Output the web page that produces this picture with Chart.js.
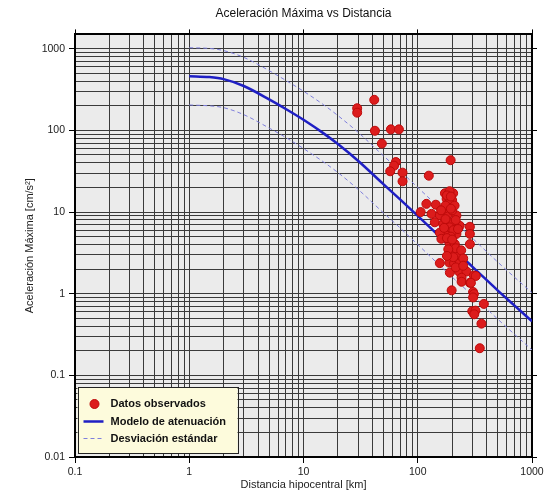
<!DOCTYPE html>
<html lang="es">
<head>
<meta charset="utf-8">
<title>Aceleración Máxima vs Distancia</title>
<script src="https://cdn.jsdelivr.net/npm/chart.js@4.4.0/dist/chart.umd.min.js"></script>
<style>
  html, body { margin: 0; padding: 0; background: #fff; }
  #wrap { width: 552px; height: 500px; position: relative; }
</style>
</head>
<body>
<div id="wrap"><canvas id="chartPga"></canvas></div>
<script>
// ==== DATA ====
const obsDist = [29.5, 29.5, 41.6, 42.2, 58.2, 68.4, 48.5, 64.3, 62, 57.4, 73.6, 73.6, 125, 194,
    173, 204, 190, 179, 200, 119, 144, 189, 106, 132, 156, 185, 218, 200, 170,
    141, 167, 198, 233, 286, 181, 156, 218, 286, 161, 189, 211, 286, 198, 226,
    189, 226, 156, 208, 233, 191, 230, 267, 310, 322, 242, 242, 286, 292, 198,
    305, 310, 305, 379, 300, 320, 312, 361, 349,
    180, 195, 210, 175, 160, 195, 215, 175, 190, 205, 170, 225, 195, 180, 200,
    215, 185, 205, 240, 250, 215, 250, 180];
const obsPga = [187, 165, 237, 99, 103, 103, 69, 41, 37, 31.6, 30.4, 23.8, 27.9, 43.2,
    17, 17, 18, 14.5, 14, 12.6, 12.3, 13, 10, 9.5, 9.1, 9.5, 9.1, 10.5, 11,
    7.5, 7.1, 7.5, 6.8, 6.6, 5.9, 5.6, 5.4, 5.4, 4.7, 4.2, 4.05, 4.05, 3.2, 3.05,
    2.4, 2.4, 2.37, 2.35, 2.35, 1.81, 1.87, 1.87, 1.67, 1.65, 1.57, 1.4, 1.36, 1.36, 1.1,
    1.05, 0.99, 0.9, 0.75, 0.61, 0.62, 0.56, 0.43, 0.215,
    16, 15.5, 12, 12, 10.5, 11, 8, 8.2, 6.5, 6, 6.4, 6.2, 5, 4.8, 4.6,
    3.6, 3.5, 2.8, 3.4, 2.7, 2.1, 2.2, 2.9];

const modelDist = [1, 1.5, 2, 3, 5, 7, 10, 15, 20, 30, 50, 70, 100, 200, 300, 500, 700, 1000];
const modelPga = [461, 450, 425, 350, 240, 183, 135, 92, 68, 42.5, 22, 14.3, 9.0, 3.6, 2.15, 1.1, 0.72, 0.46];
const upperPga = [1030, 1010, 950, 785, 540, 410, 302, 206, 152, 95, 49, 32, 20, 8.1, 4.8, 2.45, 1.6, 1.03];
const lowerPga = [205, 200, 190, 156, 107, 82, 60, 41, 30.5, 19, 9.8, 6.4, 4.0, 1.6, 0.96, 0.49, 0.32, 0.205];

const xDecades = [0.1, 1, 10, 100, 1000];
const xTickLabels = ["0.1", "1", "10", "100", "1000"];
const yDecades = [0.01, 0.1, 1, 10, 100, 1000];
const yTickLabels = ["0.01", "0.1", "1", "10", "100", "1000"];
const legendLabels = ["Datos observados", "Modelo de atenuación", "Desviación estándar"];

const FONT = "'Liberation Sans', Arial, Helvetica, sans-serif";

// ==== HELPERS ====
function allTicks(decades) {
    const out = [];
    decades.forEach((d, i) => {
        if (i === decades.length - 1) { out.push(d); return; }
        for (let m = 1; m <= 9; m++) out.push(+(m * d).toPrecision(6));
    });
    return out;
}
function decadeIndex(decades, v) {
    return decades.findIndex(d => Math.abs(v / d - 1) < 1e-6);
}
const xTicks = allTicks(xDecades);
const yTicks = allTicks(yDecades);

const toPoints = (xs, ys) => xs.map((x, i) => ({ x, y: ys[i] }));

// ==== PLUGINS ====
const plotBackground = {
    id: "plotBackground",
    beforeDraw(chart) {
        const { ctx, chartArea: a } = chart;
        ctx.save();
        ctx.fillStyle = "#ebebeb";
        ctx.fillRect(a.left, a.top, a.right - a.left, a.bottom - a.top);
        ctx.restore();
    }
};

const legendBox = {
    id: "legendBox",
    afterDraw(chart) {
        const { ctx, chartArea: a } = chart;
        const ds = chart.data.datasets;
        const w = 160, h = 66;
        const x = a.left + 2.5, y = a.bottom - h - 4;
        ctx.save();
        ctx.fillStyle = "#fdfbdc";
        ctx.fillRect(x, y, w, h);
        ctx.strokeStyle = "#222";
        ctx.lineWidth = 1;
        ctx.strokeRect(Math.round(x) + 0.5, Math.round(y) + 0.5, w, h);

        const rows = [y + 17, y + 34.5, y + 51.5];
        // dot
        ctx.beginPath();
        ctx.arc(x + 17, rows[0], 4.5, 0, Math.PI * 2);
        ctx.fillStyle = ds[0].backgroundColor;
        ctx.fill();
        ctx.strokeStyle = ds[0].borderColor;
        ctx.stroke();
        // model line
        ctx.beginPath();
        ctx.moveTo(x + 6, rows[1]);
        ctx.lineTo(x + 26, rows[1]);
        ctx.strokeStyle = ds[1].borderColor;
        ctx.lineWidth = ds[1].borderWidth;
        ctx.stroke();
        // dashed line
        ctx.beginPath();
        ctx.setLineDash(ds[2].borderDash);
        ctx.moveTo(x + 6, rows[2]);
        ctx.lineTo(x + 26, rows[2]);
        ctx.strokeStyle = ds[2].borderColor;
        ctx.lineWidth = ds[2].borderWidth;
        ctx.stroke();
        ctx.setLineDash([]);

        ctx.fillStyle = "#111";
        ctx.font = "bold 11px " + FONT;
        ctx.textBaseline = "middle";
        ctx.textAlign = "left";
        legendLabels.forEach((t, i) => ctx.fillText(t, x + 33, rows[i]));
        ctx.restore();
    }
};

// ==== CHART ====
const tickFont = { family: FONT, size: 10.5 };
const gridColor = "#3a3a3a";

new Chart(document.getElementById("chartPga"), {
    type: "scatter",
    data: {
        datasets: [
            {
                label: legendLabels[0],
                data: toPoints(obsDist, obsPga),
                backgroundColor: "#dc1c1c",
                borderColor: "#be0a0a",
                borderWidth: 1,
                pointRadius: 4.5,
                showLine: false
            },
            {
                label: legendLabels[1],
                data: toPoints(modelDist, modelPga),
                borderColor: "#1f1fc4",
                borderWidth: 2.5,
                pointRadius: 0,
                showLine: true,
                cubicInterpolationMode: "monotone"
            },
            {
                label: legendLabels[2],
                data: toPoints(modelDist, upperPga),
                borderColor: "#7f7fdc",
                borderWidth: 1,
                borderDash: [4, 3],
                pointRadius: 0,
                showLine: true,
                cubicInterpolationMode: "monotone"
            },
            {
                label: legendLabels[2] + " ",
                data: toPoints(modelDist, lowerPga),
                borderColor: "#7f7fdc",
                borderWidth: 1,
                borderDash: [4, 3],
                pointRadius: 0,
                showLine: true,
                cubicInterpolationMode: "monotone"
            }
        ]
    },
    options: {
        responsive: true,
        maintainAspectRatio: false,
        animation: false,
        layout: { padding: 0 },
        plugins: {
            legend: { display: false },
            tooltip: { enabled: false },
            title: {
                display: true,
                text: "Aceleración Máxima vs Distancia",
                fullSize: false,
                color: "#111",
                font: { family: FONT, size: 12, weight: "normal" },
                padding: { top: 6, bottom: 8 }
            }
        },
        scales: {
            x: {
                type: "logarithmic",
                position: "bottom",
                min: 0.1,
                max: 1000,
                afterBuildTicks: s => { s.ticks = xTicks.map(v => ({ value: v })); },
                afterFit: s => { s.height = 43; },
                ticks: {
                    autoSkip: false, maxRotation: 0, padding: 3, color: "#222", font: tickFont,
                    callback: v => { const i = decadeIndex(xDecades, v); return i < 0 ? "" : xTickLabels[i]; }
                },
                grid: {
                    color: gridColor, lineWidth: 1, tickLength: 6,
                    tickColor: c => (c.tick && decadeIndex(xDecades, c.tick.value) >= 0) ? "#000" : "rgba(0,0,0,0)"
                },
                border: { color: "#000", width: 2 },
                title: {
                    display: true, text: "Distancia hipocentral [km]", color: "#222",
                    font: { family: FONT, size: 11 }, padding: { top: 0, bottom: 8 }
                }
            },
            x2: {
                type: "logarithmic",
                position: "top",
                min: 0.1,
                max: 1000,
                afterBuildTicks: s => { s.ticks = xDecades.map(v => ({ value: v })); },
                afterFit: s => { s.height = 6; },
                ticks: { display: false },
                grid: { drawOnChartArea: false, tickLength: 5, tickColor: "#000" },
                border: { color: "#000", width: 2 }
            },
            y: {
                type: "logarithmic",
                position: "left",
                min: 0.01,
                max: 1500,
                afterBuildTicks: s => { s.ticks = yTicks.map(v => ({ value: v })); },
                afterFit: s => { s.width = 75; },
                ticks: {
                    autoSkip: false, padding: 4, color: "#222", font: tickFont,
                    callback: v => { const i = decadeIndex(yDecades, v); return i < 0 ? "" : yTickLabels[i]; }
                },
                grid: {
                    color: gridColor, lineWidth: 1, tickLength: 6,
                    tickColor: c => (c.tick && decadeIndex(yDecades, c.tick.value) >= 0) ? "#000" : "rgba(0,0,0,0)"
                },
                border: { color: "#000", width: 2 },
                title: {
                    display: true, text: "Aceleración Máxima [cm/s²]", color: "#222",
                    font: { family: FONT, size: 11 }, padding: { top: 23, bottom: 0 }
                }
            },
            y2: {
                type: "logarithmic",
                position: "right",
                min: 0.01,
                max: 1500,
                afterBuildTicks: s => { s.ticks = yDecades.map(v => ({ value: v })); },
                afterFit: s => { s.width = 20; },
                ticks: { display: false },
                grid: { drawOnChartArea: false, tickLength: 5, tickColor: "#000" },
                border: { color: "#000", width: 2 }
            }
        }
    },
    plugins: [plotBackground, legendBox]
});
</script>
</body>
</html>
